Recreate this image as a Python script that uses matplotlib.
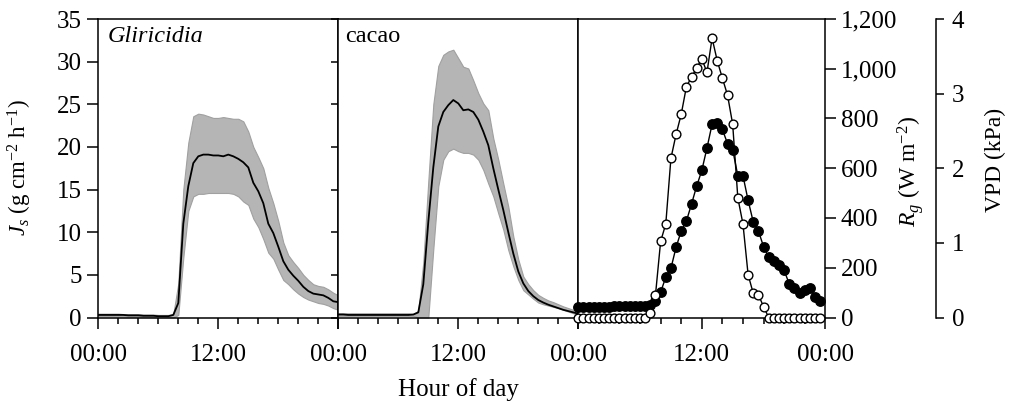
import numpy as np
import matplotlib.pyplot as plt
from matplotlib.ticker import FuncFormatter, MultipleLocator, FixedLocator

plt.rcParams['font.family'] = 'Liberation Serif'
plt.rcParams['mathtext.fontset'] = 'custom'
plt.rcParams['mathtext.rm'] = 'Liberation Serif'
plt.rcParams['mathtext.it'] = 'Liberation Serif:italic'
plt.rcParams['font.size'] = 18

# half-hourly sap flux (0:00 .. 24:00)
hours_js = np.arange(0, 24.01, 0.5)
glir_mean = [0.3, 0.3, 0.3, 0.3, 0.3, 0.3, 0.25, 0.25, 0.25, 0.2, 0.2, 0.2, 0.15, 0.15, 0.15,
             0.3, 1.7, 11.0, 15.4, 18.1, 18.9,
             19.1, 19.1, 19.0, 19.0, 18.9, 19.1, 18.9, 18.6, 18.2, 17.6,
             15.8, 14.8, 13.4, 11.0, 9.9, 8.3, 6.6, 5.6, 4.9, 4.3, 3.6, 3.1, 2.8, 2.7, 2.6, 2.3, 1.9,
             1.8]
glir_upper = [0.45, 0.45, 0.45, 0.45, 0.45, 0.4, 0.4, 0.4, 0.4, 0.35, 0.35, 0.35, 0.3, 0.3, 0.3,
              0.4, 4.0, 15.0, 20.5, 23.6, 23.9,
              23.8, 23.6, 23.4, 23.4, 23.5, 23.4, 23.3, 23.3, 23.0, 21.8,
              20.0, 18.8, 17.5, 15.2, 13.4, 11.3, 8.8, 7.3, 6.5, 5.8, 5.0, 4.4, 3.9, 3.7, 3.6, 3.3, 2.9,
              2.6]
glir_lower = [0.15, 0.15, 0.15, 0.15, 0.12, 0.12, 0.1, 0.1, 0.1, 0.08, 0.08, 0.05, 0.05, 0.05, 0.05,
              0.0, 0.3, 7.0, 12.5, 14.2, 14.5,
              14.5, 14.6, 14.6, 14.6, 14.6, 14.6, 14.5, 14.2, 13.6, 13.2,
              11.6, 10.6, 9.2, 7.6, 6.9, 5.6, 4.4, 3.9, 3.3, 2.8, 2.4, 2.1, 1.9, 1.7, 1.6, 1.4, 1.1,
              0.9]

cacao_mean = [0.35, 0.35, 0.3, 0.3, 0.3, 0.3, 0.3, 0.3, 0.3, 0.3, 0.3, 0.3, 0.3, 0.3, 0.3,
              0.35, 0.6, 3.9, 11.2, 17.6, 22.4, 24.1, 24.9, 25.5, 25.1, 24.3, 24.4, 24.1, 23.2,
              21.8, 20.2, 17.5, 15.0, 12.6, 10.0, 7.5, 5.4, 4.0, 3.1, 2.5, 2.05, 1.75, 1.5, 1.3,
              1.1, 0.9, 0.75, 0.6, 0.45]
cacao_upper = [0.5, 0.5, 0.5, 0.5, 0.5, 0.5, 0.5, 0.5, 0.5, 0.5, 0.5, 0.5, 0.5, 0.5, 0.5,
               0.4, 0.8, 6.5, 16.0, 25.0, 29.5, 30.8, 31.2, 31.4, 30.4, 29.4, 29.2, 27.8, 26.3,
               25.1, 24.3, 21.0, 18.5, 15.7, 13.0, 9.5, 6.8, 4.8, 3.9, 3.2, 2.65, 2.3, 2.0, 1.8,
               1.55, 1.3, 1.1, 0.9, 0.7]
cacao_lower = [0.2, 0.2, 0.2, 0.2, 0.2, 0.2, 0.2, 0.2, 0.2, 0.2, 0.2, 0.2, 0.2, 0.2, 0.2,
               0.2, 0.0, 0.0, 0.0, 8.0, 15.4, 18.5, 19.5, 19.8, 19.5, 19.3, 19.3, 19.1, 18.5,
               17.3, 15.7, 14.2, 12.2, 10.3, 7.9, 6.0, 4.4, 3.2, 2.7, 2.2, 1.75, 1.55, 1.4, 1.25,
               1.1, 0.9, 0.7, 0.5, 0.3]

# half-hourly meteorology (0:00 .. 23:30)
hours_met = np.arange(0, 24, 0.5)
rg = [0] * 14 + [20, 91, 306, 376, 640, 736, 817, 927, 967, 1002, 1041, 985, 1123, 1032,
                 962, 894, 777, 481, 376, 172, 97, 91, 44] + [0] * 11
vpd = [0.14, 0.14, 0.14, 0.14, 0.14, 0.14, 0.14, 0.15, 0.15, 0.15, 0.15, 0.15, 0.15, 0.15,
       0.17, 0.22, 0.34, 0.54, 0.66, 0.94, 1.16, 1.29, 1.52, 1.76, 1.97, 2.27, 2.59, 2.61,
       2.52, 2.33, 2.25, 1.90, 1.90, 1.57, 1.28, 1.16, 0.95, 0.81, 0.76, 0.71, 0.63, 0.45,
       0.39, 0.33, 0.37, 0.39, 0.28, 0.22]

W, H = 1010, 411
fig = plt.figure(figsize=(W / 100, H / 100), dpi=100)
bot = 1 - 317.5 / H
hgt = (317.5 - 19) / H
ax1 = fig.add_axes([98.3 / W, bot, 240 / W, hgt])
ax2 = fig.add_axes([338.3 / W, bot, 240 / W, hgt])
ax3 = fig.add_axes([578.3 / W, bot, 247 / W, hgt])


def fmt_hour(v, pos):
    return '%02d:00' % (int(v) % 24)


def style_x(ax, show_first):
    ax.set_xlim(0, 24)
    ax.xaxis.set_major_locator(FixedLocator([0, 12, 24]))
    if show_first:
        ax.xaxis.set_major_formatter(FuncFormatter(fmt_hour))
    else:
        ax.xaxis.set_major_formatter(FuncFormatter(lambda v, p: '' if v == 0 else fmt_hour(v, p)))
    ax.xaxis.set_minor_locator(MultipleLocator(2))
    ax.tick_params(axis='x', which='major', direction='out', length=8, width=1.1, pad=11)
    ax.tick_params(axis='x', which='minor', direction='out', length=4.5, width=1.1)
    for s in ax.spines.values():
        s.set_linewidth(1.1)


band_col = '#b5b5b5'
for ax, m, up, lo in [(ax1, glir_mean, glir_upper, glir_lower),
                      (ax2, cacao_mean, cacao_upper, cacao_lower)]:
    ax.fill_between(hours_js, lo, up, facecolor=band_col, edgecolor='#a0a0a0', linewidth=0.8)
    ax.plot(hours_js, m, color='black', linewidth=1.3)
    ax.set_ylim(0, 35)

style_x(ax1, True)
style_x(ax2, False)

ax1.yaxis.set_major_locator(MultipleLocator(5))
ax1.tick_params(axis='y', which='major', direction='out', length=8, width=1.1, pad=4,
                right=False)
ax1_r = ax1.secondary_yaxis('right')
ax1_r.yaxis.set_major_locator(MultipleLocator(5))
ax1_r.tick_params(axis='y', direction='in', length=5, width=1.1, labelright=False)
ax1_r.spines['right'].set_visible(False)
ax2.tick_params(axis='y', left=False, labelleft=False)

ax1.text(0.04, 0.94, 'Gliricidia', style='italic', transform=ax1.transAxes,
         va='center', ha='left', fontsize=17.5)
ax2.text(0.03, 0.94, 'cacao', transform=ax2.transAxes,
         va='center', ha='left', fontsize=17.5)

# third panel: VPD host axis with offset spine, Rg on twin
ax3.plot(hours_met, vpd, color='black', linewidth=1.0, marker='o', markersize=6.8,
         markerfacecolor='black', markeredgecolor='black', clip_on=False, zorder=3)
ax3.set_ylim(0, 4)
style_x(ax3, False)

ax4 = ax3.twinx()
ax4.plot(hours_met, rg, color='black', linewidth=1.0, marker='o', markersize=6.3,
         markerfacecolor='white', markeredgecolor='black', markeredgewidth=1.0,
         clip_on=False, zorder=3)
ax4.set_ylim(0, 1200)
ax4.set_xlim(0, 24)
ax4.yaxis.set_major_locator(MultipleLocator(200))
ax4.yaxis.set_major_formatter(FuncFormatter(lambda v, p: '{:,.0f}'.format(v)))
ax4.tick_params(axis='y', direction='out', length=8, width=1.1, pad=3)
for side in ['left', 'top', 'bottom']:
    ax4.spines[side].set_visible(False)
ax4.spines['right'].set_linewidth(1.1)

# VPD axis ticks on the offset right spine (set after twinx, which moves them left)
ax3.yaxis.tick_right()
ax3.spines['right'].set_position(('outward', 80))
ax3.yaxis.set_major_locator(MultipleLocator(1))
ax3.tick_params(axis='y', direction='out', length=6, width=1.1, pad=5, left=False,
                labelleft=False, right=True, labelright=True)

fig.text(20 / W, 1 - 168 / H, r'$J_s$ (g cm$^{-2}$ h$^{-1}$)', rotation=90,
         ha='center', va='center', fontsize=16.5)
fig.text(911 / W, 1 - 172 / H, r'$R_g$ (W m$^{-2}$)', rotation=90,
         ha='center', va='center', fontsize=17)
fig.text(995 / W, 1 - 160 / H, 'VPD (kPa)', rotation=90,
         ha='center', va='center', fontsize=17)
fig.text(458 / W, 1 - 390 / H, 'Hour of day', ha='center', va='center', fontsize=18)

fig.savefig('out.png', dpi=100)
